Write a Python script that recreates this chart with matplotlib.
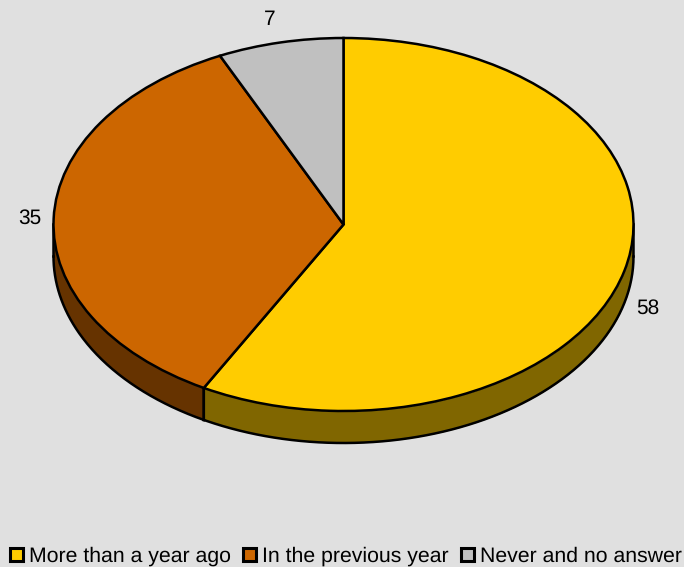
import matplotlib
matplotlib.use('Agg')

import numpy as np
import matplotlib.pyplot as plt
from matplotlib.patches import Rectangle

labels = ['More than a year ago', 'In the previous year', 'Never and no answer']
values = [58, 35, 7]
colors = ['#FFCC00', '#CC6600', '#C0C0C0']
side_colors = ['#806600', '#663300', '#606060']

W, H = 684, 567
plt.rcParams['font.family'] = ['Liberation Sans', 'DejaVu Sans']
plt.rcParams['text.hinting'] = 'none'

fig = plt.figure(figsize=(W/100, H/100), dpi=100, facecolor='#E0E0E0')

# axes spans exactly the ellipse, x/y data -1..1
cx, cy, rx, ry = 343.5, 224.5, 290, 186.5
depth = 32/ry
ax = fig.add_axes([(cx-rx)/W, 1-(cy+ry)/H, 2*rx/W, 2*ry/H])
ax.set_facecolor('none')

edges = np.cumsum([0] + values)/sum(values)*2*np.pi

# side wall, only the front part of the rim can be seen
for i in range(len(values)):
    a0, a1 = edges[i], edges[i+1]
    # angle measured clockwise from top, front half is pi/2..3pi/2
    s0 = max(a0, np.pi/2)
    s1 = min(a1, 3*np.pi/2)
    if s1 <= s0:
        continue
    t = np.linspace(s0, s1, 200)
    x = np.sin(t)
    y = np.cos(t)
    ax.fill_between(x, y, y-depth, color=side_colors[i], lw=0, zorder=1, clip_on=False)
    ax.plot(x, y-depth, color='black', lw=1.8, zorder=2, clip_on=False)
    for xe, ye in [(x[0], y[0]), (x[-1], y[-1])]:
        ax.plot([xe, xe], [ye, ye-depth], color='black', lw=1.8, zorder=2, clip_on=False, snap=False)

wedges, _ = ax.pie(values, colors=colors, startangle=90, counterclock=False, radius=1,
                   wedgeprops={'edgecolor': 'black', 'linewidth': 1.8, 'zorder': 3, 'clip_on': False})
ax.set_aspect('auto')
ax.set_xlim(-1, 1)
ax.set_ylim(-1, 1)

# value labels
label_pos = [(648, 308), (30, 218), (270, 20)]
for v, (px, py) in zip(values, label_pos):
    fig.text(px/W, 1-py/H, str(v), ha='center', va='center', fontsize=15, color='black')

# legend drawn by hand, boxes are small squares with thick outline
legend_x = [(9.5, 29), (243, 262), (461, 480)]
for (bx, tx), lab, c in zip(legend_x, labels, colors):
    fig.add_artist(Rectangle((bx/W, 1-561/H), 13/W, 13/H, transform=fig.transFigure,
                             facecolor=c, edgecolor='black', lw=2.2))
    fig.text(tx/W, 1-556/H, lab, ha='left', va='center', fontsize=15.3, color='black')

fig.savefig('out.png', dpi=100, facecolor=fig.get_facecolor())
